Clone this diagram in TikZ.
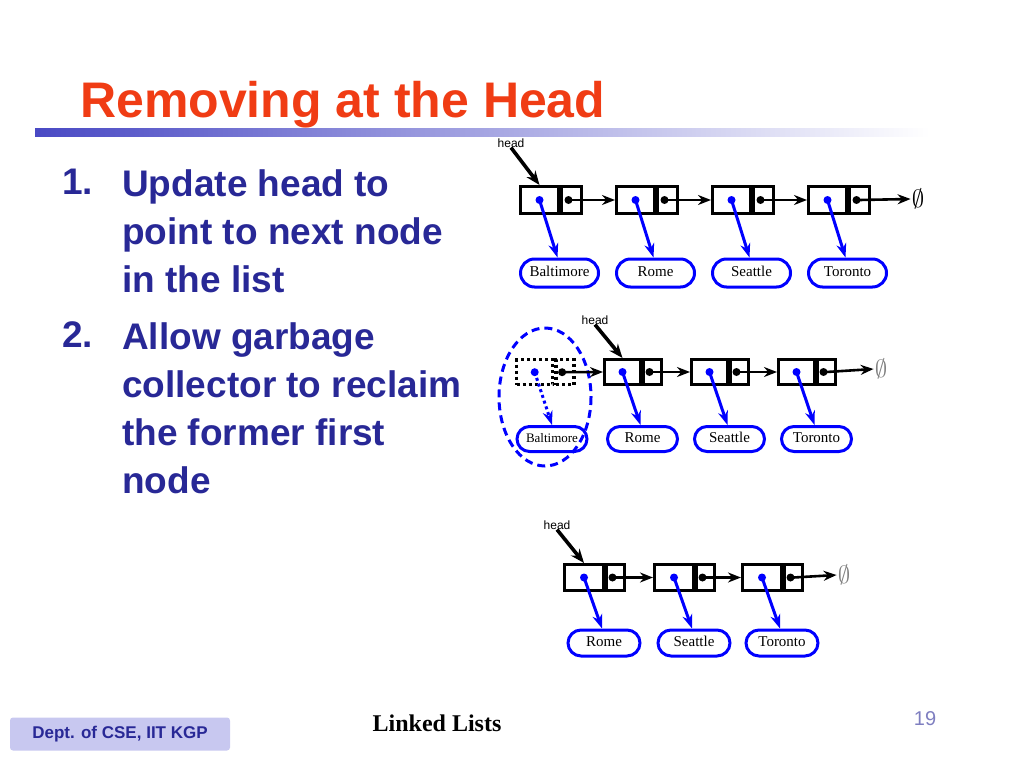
\documentclass[tikz,border=0pt]{standalone}
\usepackage{fontspec}
\setmainfont{Liberation Sans}
\newfontfamily\labfont{Liberation Serif}
\usetikzlibrary{arrows.meta,shapes.misc}
\definecolor{navy}{RGB}{40,40,150}
\definecolor{titlered}{RGB}{240,60,20}
\definecolor{foot}{RGB}{200,200,240}
\tikzset{
  databox/.style={draw,line width=3pt,minimum height=#1,inner sep=0pt},
  city/.style={draw=blue,line width=3pt,rounded rectangle,inner sep=0pt,
    text height=10pt,text depth=3pt,font=\labfont\fontsize{15}{15}\selectfont},
  ptr/.style={-{Stealth[length=14pt,width=10pt]},blue,line width=3pt},
  link/.style={-{Stealth[length=13pt,width=10pt]},line width=2.6pt},
  headarrow/.style={-{Stealth[length=14pt,width=11pt]},line width=3.6pt},
  tag/.style={font=\fontsize{12}{12}\selectfont,inner sep=0pt},
  nullmark/.style={font=\fontsize{26}{26}\selectfont,inner sep=1pt},
}
% one list: #1 prefix, #2 y top, #3 height, #4 data width, #5 next width,
% #6 label y, #7 label width, #8 label height, #9 list of x/name
\newcommand{\drawlist}[9]{
  \foreach \xx/\lab [count=\i] in {#9} {
    \node[databox=#3,minimum width=#4,anchor=north west] (#1d\i) at (\xx,#2) {};
    \node[databox=#3,minimum width=#5,anchor=north west] (#1n\i) at (#1d\i.north east) {};
    \fill[blue] (#1d\i.center) circle (4pt);
    \fill (#1n\i.center) ++(-3pt,0) circle (4pt);
    \node[city,minimum width=#7,minimum height=#8] (#1c\i) at ([xshift=20pt]#1d\i.center |- 0,#6) {\lab};
    \draw[ptr] (#1d\i.center) -- ([xshift=-2pt]#1c\i.north);
  }
}
\begin{document}
\begin{tikzpicture}[x=1pt,y=-1pt]
\useasboundingbox (0,0) rectangle (1024,768);
% title and bar
\node[anchor=base west,text=titlered,font=\bfseries\fontsize{50}{50}\selectfont,inner sep=0pt] (title) at (80,117) {Removing at the Head};
\shade[left color=navy!70!blue!80,right color=white] (35,128) rectangle (930,136);
% item text
\node[anchor=north west,text=navy,font=\bfseries\fontsize{37}{48}\selectfont,inner sep=0pt,align=left] (nums) at (62,169)
{1.\\~\\~\\[9pt]2.};
\node[anchor=north west,text=navy,font=\bfseries\fontsize{37}{48}\selectfont,inner sep=0pt,align=left] (items) at (122,169)
{Update head to\\ point to next node\\ in the list\\[9pt]
Allow garbage\\ collector to reclaim\\ the former first\\ node};
% list 1
\drawlist{a}{185}{27}{38}{20}{273}{78}{28}{519/Baltimore,615/Rome,711/Seattle,807/Toronto}
\foreach \i/\j in {1/2,2/3,3/4} \draw[link] (an\i.center) -- (ad\j.west);
\node[nullmark] (anull) at (918,199) {$\emptyset$};
\draw[link] (an4.center) -- (anull.west);
\node[tag] (ahead) at (511,143) {head};
\draw[headarrow] (ahead.south) -- (ad1.north);
% list 2
\drawlist{b}{358}{25}{36}{18}{439}{70}{25}{603/Rome,690/Seattle,777/Toronto}
\node[databox=25,minimum width=36,anchor=north west,dashed,line width=3.4pt] (bd0) at (515,358) {};
\node[databox=25,minimum width=18,anchor=north west,dashed,line width=3.4pt] (bn0) at (bd0.north east) {};
\fill[blue] (bd0.center) circle (4pt);
\fill (bn0.center) ++(-3pt,0) circle (4pt);
\node[city,minimum width=70,minimum height=25,font=\labfont\fontsize{13}{13}\selectfont] (bc0) at (552,439) {Baltimore};
\draw[ptr,dashed] (bd0.center) -- (bc0.north);
\draw[blue,dash pattern=on 8pt off 5pt,line width=3pt] (545,397) ellipse (46 and 69);
\foreach \i/\j in {0/1,1/2,2/3} \draw[link] (bn\i.center) -- (bd\j.west);
\node[nullmark,text=gray] (bnull) at (881,369) {$\emptyset$};
\draw[link] (bn3.center) -- (bnull.west);
\node[tag] (bhead) at (595,320) {head};
\draw[headarrow] (bhead.south) -- (bd1.north);
% list 3
\drawlist{c}{563}{26}{39}{18}{643}{72}{26}{563/Rome,653/Seattle,741/Toronto}
\foreach \i/\j in {1/2,2/3} \draw[link] (cn\i.center) -- (cd\j.west);
\node[nullmark,text=gray] (cnull) at (844,575) {$\emptyset$};
\draw[link] (cn3.center) -- (cnull.west);
\node[tag] (chead) at (557,525) {head};
\draw[headarrow] (chead.south) -- (cd1.north);
% footer
\node[fill=foot,rounded corners=3pt,minimum width=220,minimum height=33,text=navy,font=\bfseries\fontsize{17}{17}\selectfont] (dept) at (120,734) {Dept. of CSE, IIT KGP};
\node[font=\labfont\bfseries\fontsize{24}{24}\selectfont] (topic) at (437,723) {Linked Lists};
\node[text=navy!60,font=\fontsize{20}{20}\selectfont] (page) at (925,719) {19};
\end{tikzpicture}
\end{document}
